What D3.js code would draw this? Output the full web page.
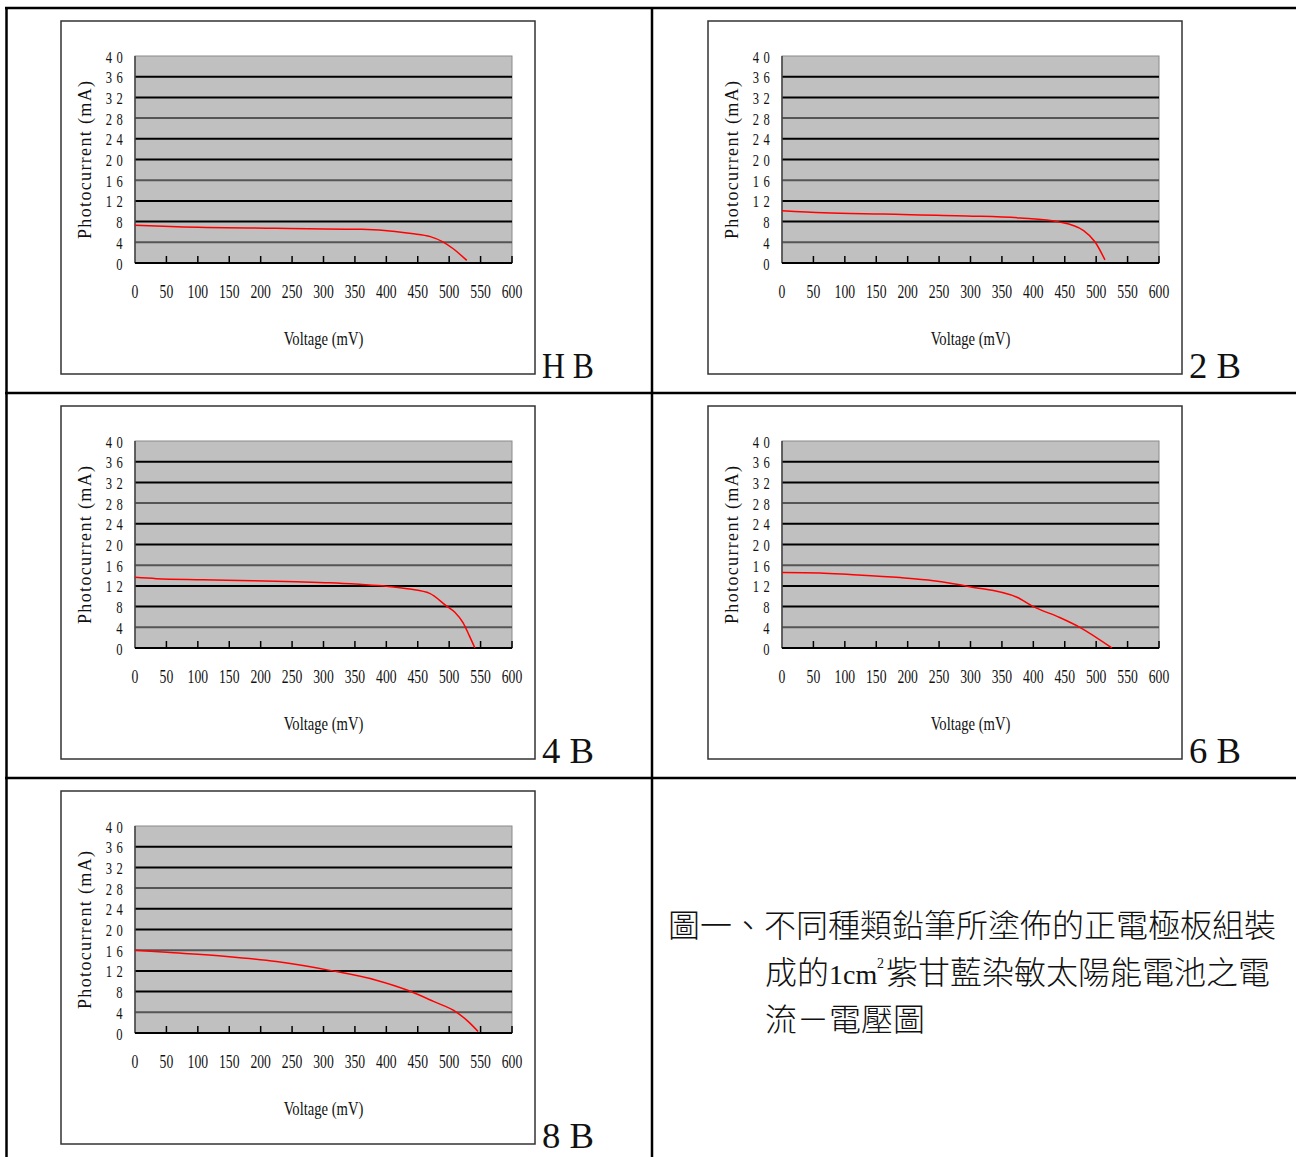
<!DOCTYPE html>
<html><head><meta charset="utf-8">
<script src="https://cdn.jsdelivr.net/npm/d3@7"></script>
<style>
html,body{margin:0;padding:0;background:#fff;}
svg{display:block;}
</style></head>
<body>
<svg id="c" width="1296" height="1157"></svg>
<script>
// ---- data ----
const panelLabels = ["H B", "2 B", "4 B", "6 B", "8 B"];
const xTickLabels = [0, 50, 100, 150, 200, 250, 300, 350, 400, 450, 500, 550, 600];
const yTickLabels = [0, 4, 8, 12, 16, 20, 24, 28, 32, 36, 40];
const xTitle = "Voltage (mV)";
const yTitle = "Photocurrent (mA)";

const HB_V = [0, 67, 223, 361, 414, 440, 470, 490, 506, 528];
const HB_I = [7.3, 7.0, 6.7, 6.5, 6.1, 5.7, 5.1, 4.1, 2.8, 0.5];
const B2_V = [0, 66, 161, 294, 379, 442, 480, 498, 514];
const B2_I = [10.1, 9.7, 9.45, 9.1, 8.7, 7.9, 6.25, 4.1, 0.6];
const B4_V = [0, 34, 108, 188, 257, 310, 357, 400, 437, 469, 495, 509, 522, 532, 541];
const B4_I = [13.65, 13.4, 13.2, 13.0, 12.8, 12.6, 12.3, 11.95, 11.4, 10.55, 8.2, 6.9, 4.9, 2.4, 0];
const B6_V = [0, 60, 108, 188, 241, 299, 374, 400, 442, 474, 525];
const B6_I = [14.6, 14.5, 14.2, 13.6, 13.0, 11.85, 9.8, 8.0, 5.9, 4.0, 0];
const B8_V = [0, 50, 146, 225, 310, 384, 435, 475, 512, 530, 546];
const B8_I = [16.0, 15.6, 14.8, 13.8, 12.1, 10.2, 8.2, 6.1, 4.0, 2.25, 0.3];

const captionLine1 = "圖一、不同種類鉛筆所塗佈的正電極板組裝";
const captionLine2a = "成的";
const captionLine2b = "1cm";
const captionLine2sup = "2";
const captionLine2c = "紫甘藍染敏太陽能電池之電";
const captionLine3 = "流－電壓圖";

// ---- drawing ----
const svg = d3.select("#c");
const series = [[HB_V, HB_I], [B2_V, B2_I], [B4_V, B4_I], [B6_V, B6_I], [B8_V, B8_I]];
const origins = [[61, 21], [708, 21], [61, 406], [708, 406], [61, 791]];
const BW = 474, BH = 353;
const serif = "'Liberation Serif', 'DejaVu Serif', serif";

const x = d3.scaleLinear().domain([0, 600]).range([74, 451]);
const y = d3.scaleLinear().domain([0, 40]).range([242, 35]);

// table lines
const tbl = svg.append("g").attr("stroke", "#000").attr("stroke-width", 2.5);
tbl.append("line").attr("x1", 5).attr("x2", 1296).attr("y1", 8).attr("y2", 8);
tbl.append("line").attr("x1", 6.5).attr("x2", 6.5).attr("y1", 7).attr("y2", 1157);
tbl.append("line").attr("x1", 652).attr("x2", 652).attr("y1", 7).attr("y2", 1157);
tbl.append("line").attr("x1", 5).attr("x2", 1296).attr("y1", 393).attr("y2", 393);
tbl.append("line").attr("x1", 5).attr("x2", 1296).attr("y1", 778).attr("y2", 778);

series.forEach((s, k) => {
  const [ox, oy] = origins[k];
  const g = svg.append("g").attr("transform", `translate(${ox},${oy})`);
  g.append("rect").attr("x", 0).attr("y", 0).attr("width", BW).attr("height", BH)
    .attr("fill", "#fff").attr("stroke", "#333").attr("stroke-width", 1.5);

  // plot area
  g.append("rect").attr("x", x(0)).attr("y", y(40))
    .attr("width", x(600) - x(0)).attr("height", y(0) - y(40))
    .attr("fill", "#C0C0C0").attr("stroke", "#8a8a8a").attr("stroke-width", 1);

  // gridlines
  const grid = yTickLabels.filter(v => v > 0 && v < 40);
  g.selectAll(".grid").data(grid).enter().append("line")
    .attr("x1", x(0)).attr("x2", x(600))
    .attr("y1", d => y(d)).attr("y2", d => y(d))
    .attr("stroke", (d, i) => (i % 3 === 0 ? "#555" : "#000"))
    .attr("stroke-width", 2);

  // y axis line
  g.append("line").attr("x1", x(0)).attr("x2", x(0)).attr("y1", y(40)).attr("y2", y(0))
    .attr("stroke", "#444").attr("stroke-width", 1.5);
  // x axis line
  g.append("line").attr("x1", x(0)).attr("x2", x(600)).attr("y1", y(0)).attr("y2", y(0))
    .attr("stroke", "#000").attr("stroke-width", 2);
  // x ticks (inward)
  g.selectAll(".xt").data(xTickLabels.filter(v => v > 0)).enter().append("line")
    .attr("x1", d => x(d)).attr("x2", d => x(d))
    .attr("y1", y(0)).attr("y2", y(0) - 7)
    .attr("stroke", "#000").attr("stroke-width", 1.5);

  // y tick labels
  g.selectAll(".yl").data(yTickLabels).enter().append("g")
    .attr("transform", d => `translate(${66},${y(d) + 6.5})`)
    .append("text")
    .attr("transform", "scale(0.72,1)")
    .attr("text-anchor", "end")
    .style("font-family", serif).style("font-size", "17.5px")
    .style("letter-spacing", "6px")
    .attr("fill", "#111")
    .text(d => d);

  // x tick labels
  g.selectAll(".xl").data(xTickLabels).enter().append("g")
    .attr("transform", d => `translate(${x(d)},${277})`)
    .append("text")
    .attr("transform", "scale(0.72,1)")
    .attr("text-anchor", "middle")
    .style("font-family", serif).style("font-size", "19px")
    .attr("fill", "#111")
    .text(d => d);

  // x title
  g.append("g").attr("transform", `translate(${(x(0) + x(600)) / 2},${324})`)
    .append("text").attr("transform", "scale(0.77,1)")
    .attr("text-anchor", "middle")
    .style("font-family", serif).style("font-size", "19px")
    .attr("fill", "#111").text(xTitle);

  // y title
  g.append("text")
    .attr("transform", `translate(${30},${139}) rotate(-90)`)
    .attr("text-anchor", "middle")
    .attr("textLength", 158).attr("lengthAdjust", "spacing")
    .style("font-family", serif).style("font-size", "18px")
    .attr("fill", "#111").text(yTitle);

  // series line
  const pts = s[0].map((v, i) => [v, s[1][i]]);
  g.append("path").datum(pts)
    .attr("d", d3.line().x(d => x(d[0])).y(d => y(d[1])).curve(d3.curveMonotoneX))
    .attr("fill", "none").attr("stroke", "#FF0000").attr("stroke-width", 1.5);

  // panel label
  g.append("text")
    .attr("x", BW + 7).attr("y", BH + 4)
    .attr("textLength", 52).attr("lengthAdjust", "spacingAndGlyphs")
    .style("font-family", serif).style("font-size", "36px")
    .attr("fill", "#111").text(panelLabels[k]);
});

// caption
const cjk = "'Noto Sans CJK TC', 'Noto Sans CJK SC', sans-serif";
const cap = svg.append("g").attr("fill", "#111");
cap.append("text").attr("x", 668).attr("y", 937)
  .style("font-family", cjk).style("font-size", "32px").style("font-weight", 300)
  .text(captionLine1);
const l2 = cap.append("text").attr("y", 984)
  .style("font-family", cjk).style("font-size", "32px").style("font-weight", 300);
l2.append("tspan").attr("x", 765).text(captionLine2a);
l2.append("tspan").attr("x", 829).style("font-family", serif).style("font-size", "28px").text(captionLine2b);
l2.append("tspan").attr("x", 877).attr("y", 968).style("font-family", serif).style("font-size", "14px").text(captionLine2sup);
l2.append("tspan").attr("x", 886).attr("y", 984).text(captionLine2c);
cap.append("text").attr("x", 765).attr("y", 1031)
  .style("font-family", cjk).style("font-size", "32px").style("font-weight", 300)
  .text(captionLine3);
</script>
</body></html>
